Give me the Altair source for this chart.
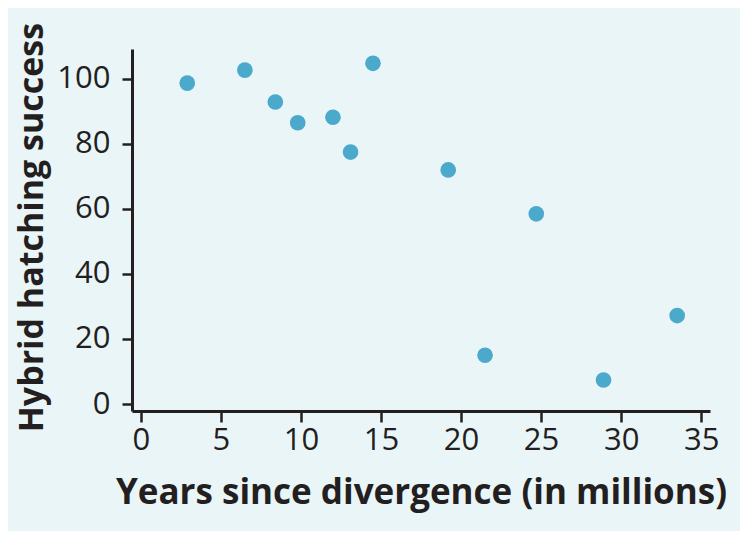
import altair as alt
import pandas as pd

years = [2.9, 6.5, 8.4, 9.8, 12.0, 13.1, 14.5, 19.2, 21.5, 24.7, 28.9, 33.5]
success = [98.7, 102.7, 92.9, 86.5, 88.2, 77.5, 104.8, 72.0, 15.0, 58.5, 7.4, 27.2]
x_ticks = [0, 5, 10, 15, 20, 25, 30, 35]
y_ticks = [0, 20, 40, 60, 80, 100]

df = pd.DataFrame({"years": years, "success": success})

FONT = "Open Sans"
INK = "#231f20"

chart = alt.Chart(df).mark_circle(size=245, opacity=1, color="#4ba9cc").encode(
    x=alt.X("years:Q",
            scale=alt.Scale(domain=[-0.55, 35.55], nice=False, zero=False),
            axis=alt.Axis(values=x_ticks, title="Years since divergence (in millions)",
                          grid=False, tickSize=11, tickWidth=2.5, domainWidth=3,
                          labelPadding=3, titlePadding=20)),
    y=alt.Y("success:Q",
            scale=alt.Scale(domain=[-2.15, 109.2], nice=False, zero=False),
            axis=alt.Axis(values=y_ticks, title="Hybrid hatching success",
                          grid=False, tickSize=10, tickWidth=2.5, domainWidth=3,
                          labelPadding=12, titlePadding=7, titleFontSize=34,
                          titleY=178)),
).properties(
    width=578, height=362,
    autosize=alt.AutoSizeParams(type="none"),
    padding={"left": 124, "top": 41, "right": 30, "bottom": 120},
    background="#eaf5f8",
).configure_view(
    stroke=None,
).configure_axis(
    domainColor=INK, tickColor=INK, labelColor=INK, titleColor=INK,
    labelFont=FONT, titleFont=FONT, labelFontSize=31, titleFontSize=35,
    titleFontWeight="bold", labelFontWeight="normal",
)

chart.save("out.html", embed_options={"renderer": "svg", "actions": False})
